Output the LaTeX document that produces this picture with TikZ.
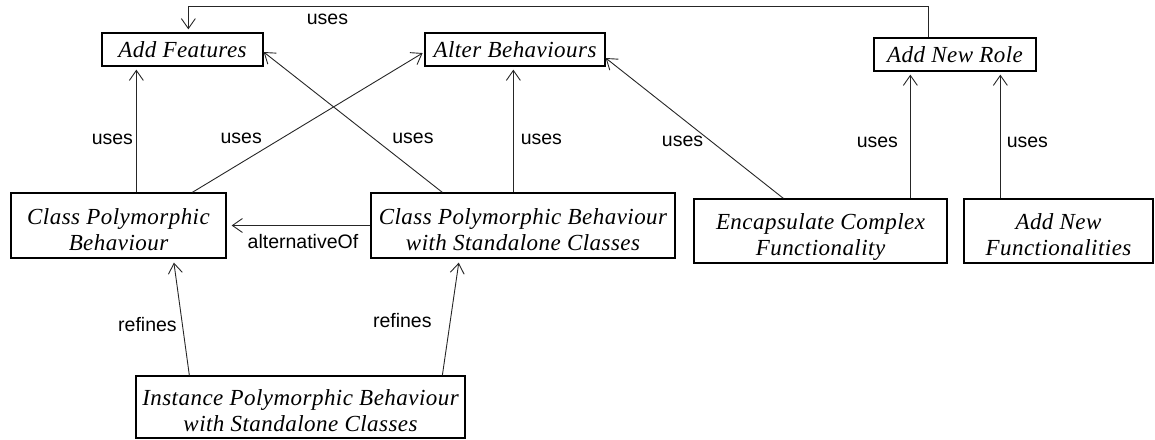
\documentclass[tikz,border=0pt]{standalone}
\usepackage{fontspec}
\setmainfont{Liberation Serif}
\newfontfamily\boxfont[LetterSpace=2]{Liberation Serif}
\newfontfamily\lblfont{Liberation Sans}
\usetikzlibrary{arrows.meta}
\newcommand\topstrutx{\rule{0pt}{29pt}}
\newcommand\botstrutx{\rule[-6pt]{0pt}{6pt}}
\tikzset{
  box/.style={draw=black, line width=1.3pt, inner sep=0pt, align=center,
    font=\boxfont\itshape\fontsize{23}{26}\selectfont},
  lbl/.style={inner sep=0pt, font=\lblfont\fontsize{19.5}{22}\selectfont, text=black},
  arr/.style={draw=black!85, line width=0.9pt,
    -{Straight Barb[length=10pt,width=14pt,line width=0.9pt]}},
}
\begin{document}
\begin{tikzpicture}[x=1pt,y=-1pt]
\useasboundingbox (0,0) rectangle (1155,439);
% boxes
\node[box, minimum width=161pt, minimum height=33pt] (af) at (182.5,49.5) {Add Features};
\node[box, minimum width=180pt, minimum height=33pt] (ab) at (515,49.5) {Alter Behaviours};
\node[box, minimum width=162pt, minimum height=33pt] (anr) at (955,54.5) {Add New Role};
\node[box, minimum width=215pt, minimum height=65pt] (cpb) at (118.5,225.5) {\topstrutx Class Polymorphic\\Behaviour\botstrutx};
\node[box, minimum width=304pt, minimum height=65pt] (cpbs) at (523,225.5) {\topstrutx Class Polymorphic Behaviour\\with Standalone Classes\botstrutx};
\node[box, minimum width=253pt, minimum height=64pt] (ecf) at (820.5,231) {\topstrutx Encapsulate Complex\\Functionality\botstrutx};
\node[box, minimum width=189pt, minimum height=64pt] (anf) at (1058.5,231) {\topstrutx Add New\\Functionalities\botstrutx};
\node[box, minimum width=329pt, minimum height=62pt] (ipb) at (300.5,407) {\topstrutx Instance Polymorphic Behaviour\\with Standalone Classes\botstrutx};
% connectors
\draw[arr, shorten >=3pt] ([xshift=126pt]cpb.north west) -- node[lbl, pos=0.425, xshift=-24pt] {uses} ([xshift=35pt]af.south west);
\draw[arr, shorten >=2pt] ([xshift=182pt]cpb.north west) -- node[lbl, pos=0.383, xshift=-40pt] {uses} ([yshift=-2.5pt]ab.west);
\draw[arr] ([xshift=72pt]cpbs.north west) -- node[lbl, pos=0.383, xshift=39pt] {uses} ([yshift=-2.5pt]af.east);
\draw[arr, shorten >=3pt] ([xshift=143pt]cpbs.north west) -- node[lbl, pos=0.425, xshift=28pt] {uses} ([xshift=89pt]ab.south west);
\draw[arr] ([xshift=90pt]ecf.north west) -- node[lbl, pos=0.404, xshift=-29pt] {uses} ([yshift=-8.5pt]ab.east);
\draw[arr, shorten >=3pt] ([xshift=217pt]ecf.north west) -- node[lbl, pos=0.445, xshift=-33pt] {uses} ([xshift=37pt]anr.south west);
\draw[arr, shorten >=3pt] ([xshift=37pt]anf.north west) -- node[lbl, pos=0.445, xshift=27pt] {uses} ([xshift=127pt]anr.south west);
\draw[arr, shorten >=5pt] (cpbs.west) -- node[lbl, pos=0.469, yshift=-16pt] {alternativeOf} (cpb.east);
\draw[arr, shorten >=4pt] ([xshift=54pt]ipb.north west) -- node[lbl, pos=0.432, xshift=-35pt] {refines} ([xshift=163pt]cpb.south west);
\draw[arr, shorten >=4pt] ([xshift=307pt]ipb.north west) -- node[lbl, pos=0.466, xshift=-48pt] {refines} ([xshift=89pt]cpbs.south west);
\draw[arr, shorten >=3pt] ([xshift=55pt]anr.north west) -- ++(0,-31) -| node[lbl, pos=0.406, yshift=-13pt] {uses} ([xshift=87pt]af.north west);
\end{tikzpicture}
\end{document}
